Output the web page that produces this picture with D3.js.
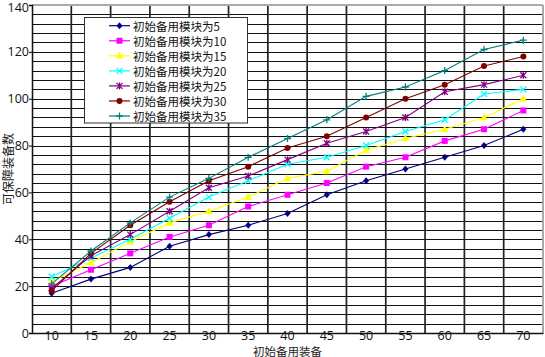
<!DOCTYPE html>
<html><head><meta charset="utf-8">
<script src="https://cdn.jsdelivr.net/npm/d3@7"></script>
<style>body{margin:0;background:#fff}svg{display:block}</style>
</head><body>
<svg id="c" width="545" height="357"></svg>
<script>
const categories = [10,15,20,25,30,35,40,45,50,55,60,65,70];
const yTicks = [0,20,40,60,80,100,120,140];
const seriesNames = ["初始备用模块为5","初始备用模块为10","初始备用模块为15","初始备用模块为20","初始备用模块为25","初始备用模块为30","初始备用模块为35"];
const s5  = [17,23,28,37,42,46,51,59,65,70,75,80,87];
const s10 = [20,27,34,41,46,54,59,64,71,75,82,87,95];
const s15 = [22,30,39,47,52,58,66,69,78,83,87,92,100];
const s20 = [24,32,40,49,58,65,72,75,80,86,91,102,104];
const s25 = [19,33,42,52,62,67,74,81,86,92,103,106,110];
const s30 = [18,34,46,56,65,71,79,84,92,100,106,114,118];
const s35 = [21,35,47,58,66,75,83,91,101,105,112,121,125];
const seriesValues = [s5,s10,s15,s20,s25,s30,s35];
const colors = ["#000080","#ff00ff","#ffff00","#00ffff","#800080","#800000","#008080"];
const markers = ["diamond","square","triangle","x","star","circle","plus"];

const svg = d3.select("#c");
const L = 32, R = 543, T = 5, B = 333;
const x = d3.scaleBand().domain(categories).range([L, R]);
const y = d3.scaleLinear().domain([0,140]).range([B, T]);
const cx = d => x(d) + x.bandwidth()/2;

// horizontal grid every 4 units
svg.append("g").selectAll("line").data(d3.range(4,140,4)).join("line")
  .attr("x1", L).attr("x2", R).attr("y1", d=>Math.round(y(d))+0.5).attr("y2", d=>Math.round(y(d))+0.5)
  .attr("stroke", "#111").attr("stroke-width", 1.1);
// vertical grid at band boundaries
svg.append("g").selectAll("line").data(categories.slice(1)).join("line")
  .attr("x1", d=>x(d)).attr("x2", d=>x(d)).attr("y1", T).attr("y2", B)
  .attr("stroke", "#222").attr("stroke-width", 1.7);
// borders
svg.append("line").attr("x1",L).attr("x2",R).attr("y1",T).attr("y2",T).attr("stroke","#aaa").attr("stroke-width",2);
svg.append("line").attr("x1",R).attr("x2",R).attr("y1",T).attr("y2",B).attr("stroke","#aaa").attr("stroke-width",2);

// axes
const yAxis = d3.axisLeft(y).tickValues(yTicks).tickSize(3).tickPadding(0);
const gy = svg.append("g").attr("transform", `translate(${L},0)`).call(yAxis);
gy.select(".domain").attr("stroke","#111").attr("stroke-width",1.5);
gy.selectAll("text").attr("font-family","Open Sans, Liberation Sans, sans-serif").attr("font-size",12.5).attr("fill","#111");
gy.selectAll(".tick").filter(d=>d===140).select("text").attr("dy","0.5em");
const xAxis = d3.axisBottom(x).tickSize(0).tickPadding(0);
const gx = svg.append("g").attr("transform", `translate(0,${B})`).call(xAxis);
gx.select(".domain").attr("stroke","#111").attr("stroke-width",1.5);
gx.selectAll("text").attr("font-family","Open Sans, Liberation Sans, sans-serif").attr("font-size",12.5).attr("fill","#111").attr("dy","0.55em");

// titles
svg.append("text").attr("x", (L+R)/2).attr("y", 351).attr("text-anchor","middle").attr("dominant-baseline","central")
  .attr("font-family","Noto Sans CJK SC").attr("font-size",11.5).attr("fill","#222").text("初始备用装备");
svg.append("text").attr("transform", `translate(7.5,${(T+B)/2}) rotate(-90)`).attr("text-anchor","middle").attr("dominant-baseline","central")
  .attr("font-family","Noto Sans CJK SC").attr("font-size",12).attr("fill","#222").text("可保障装备数");

function drawMarker(g, type, color, px, py) {
  const s = 3;
  if (type === "diamond") g.append("path").attr("d", `M${px},${py-s-0.5}L${px+s},${py}L${px},${py+s+0.5}L${px-s},${py}Z`).attr("fill", color);
  else if (type === "square") g.append("rect").attr("x", px-3).attr("y", py-3).attr("width", 6).attr("height", 6).attr("fill", color);
  else if (type === "triangle") g.append("path").attr("d", `M${px},${py-4}L${px+3.8},${py+2.8}L${px-3.8},${py+2.8}Z`).attr("fill", color);
  else if (type === "circle") g.append("circle").attr("cx", px).attr("cy", py).attr("r", 3).attr("fill", color);
  else if (type === "x") g.append("path").attr("d", `M${px-3},${py-3}L${px+3},${py+3}M${px-3},${py+3}L${px+3},${py-3}`).attr("stroke", color).attr("stroke-width", 1.3);
  else if (type === "star") g.append("path").attr("d", `M${px-3},${py-3}L${px+3},${py+3}M${px-3},${py+3}L${px+3},${py-3}M${px},${py-3.5}L${px},${py+3.5}`).attr("stroke", color).attr("stroke-width", 1.3);
  else if (type === "plus") g.append("path").attr("d", `M${px-3.5},${py}L${px+3.5},${py}M${px},${py-3.5}L${px},${py+3.5}`).attr("stroke", color).attr("stroke-width", 1.3);
}

const line = d3.line().x((d,i)=>cx(categories[i])).y(d=>y(d));
seriesValues.forEach((vals, k) => {
  const g = svg.append("g");
  g.append("path").datum(vals).attr("d", line).attr("fill","none").attr("stroke", colors[k]).attr("stroke-width", 1.1);
  vals.forEach((v,i) => drawMarker(g, markers[k], colors[k], cx(categories[i]), y(v)));
});

// legend
const lg = svg.append("g");
lg.append("rect").attr("x", 84.5).attr("y", 17.5).attr("width", 163).attr("height", 105.5)
  .attr("fill","#fff").attr("stroke","#333").attr("stroke-width",1);
seriesNames.forEach((name,k) => {
  const yy = 25.7 + k*15.05;
  lg.append("line").attr("x1",109).attr("x2",130).attr("y1",yy).attr("y2",yy).attr("stroke",colors[k]).attr("stroke-width",1.2);
  drawMarker(lg, markers[k], colors[k], 119.5, yy);
  lg.append("text").attr("x",133).attr("y",yy).attr("dominant-baseline","central")
    .attr("font-family","Noto Sans CJK SC").attr("font-size",11.5).attr("fill","#111").text(name);
});
</script>
</body></html>
